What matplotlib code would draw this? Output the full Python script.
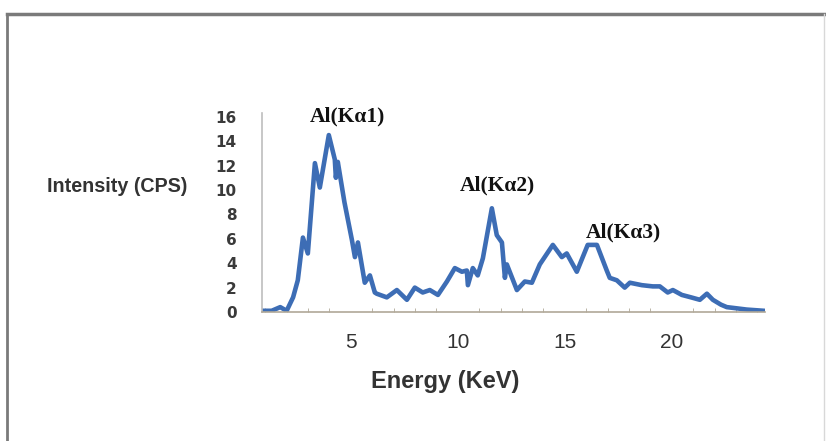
import matplotlib
matplotlib.use("Agg")
import matplotlib.pyplot as plt
from matplotlib.lines import Line2D
from matplotlib.ticker import MultipleLocator

# energy (keV) and intensity (CPS)
energy = [0.9, 1.3, 1.7, 2.0, 2.3, 2.52, 2.76, 2.99, 3.32, 3.55, 3.97, 4.25, 4.30,
          4.39, 4.7, 5.05, 5.19, 5.33, 5.65, 5.89, 6.12, 6.21, 6.68, 7.15, 7.62,
          7.99, 8.36, 8.69, 9.07, 9.49, 9.86, 10.19, 10.42, 10.47, 10.70, 10.93,
          11.17, 11.59, 11.82, 12.06, 12.20, 12.29, 12.76, 13.13, 13.46, 13.83,
          14.44, 14.86, 15.09, 15.56, 16.07, 16.50, 16.96, 17.10, 17.43, 17.80,
          18.04, 18.6, 19.11, 19.44, 19.81, 20.05, 20.47, 20.9, 21.31, 21.64,
          21.92, 22.3, 22.57, 23.04, 23.50, 24.3]
intensity = [0.1, 0.1, 0.4, 0.1, 1.2, 2.6, 6.1, 4.8, 12.2, 10.2, 14.5, 12.5, 11.0,
             12.3, 9.0, 5.9, 4.5, 5.7, 2.4, 3.0, 1.6, 1.5, 1.2, 1.8, 1.0,
             2.0, 1.6, 1.8, 1.4, 2.5, 3.6, 3.3, 3.4, 2.2, 3.6, 3.0,
             4.4, 8.5, 6.3, 5.7, 2.8, 3.9, 1.8, 2.5, 2.4, 3.9,
             5.5, 4.5, 4.8, 3.3, 5.5, 5.5, 3.4, 2.8, 2.6, 2.0,
             2.4, 2.2, 2.1, 2.1, 1.6, 1.8, 1.4, 1.2, 1.0, 1.5,
             1.0, 0.6, 0.4, 0.3, 0.2, 0.1]

peak_labels = ["Al(K\u03b11)", "Al(K\u03b12)", "Al(K\u03b13)"]
peak_x = [4.84, 11.87, 17.76]
peak_y = [16.0, 10.4, 6.5]

fig = plt.figure(figsize=(8.26, 4.41), dpi=100)
ax = fig.add_axes([0.317, 0.2925, 0.609, 0.451])

ax.plot(energy, intensity, color="#3d6db5", lw=3.3, solid_joinstyle="round")

ax.set_xlim(0.84, 24.35)
ax.set_ylim(0, 16.3)
ax.set_xticks([5, 10, 15, 20])
ax.xaxis.set_minor_locator(MultipleLocator(1))
ax.set_yticks(range(0, 17, 2))

for s in ["top", "right"]:
    ax.spines[s].set_visible(False)
ax.spines["left"].set_color("#bdbdbd")
ax.spines["bottom"].set_color("#b0a898")
ax.spines["left"].set_linewidth(1.2)
ax.spines["bottom"].set_linewidth(1.2)

ax.tick_params(axis="x", which="major", length=0, pad=15,
               labelsize=15, labelcolor="#333333")
ax.tick_params(axis="x", which="minor", direction="in", length=3, color="#b0a898")
ax.tick_params(axis="y", length=0, pad=18, labelsize=11, labelcolor="#3a3a3a")
for lab in ax.get_xticklabels():
    lab.set_family("Liberation Sans")
for lab in ax.get_yticklabels():
    lab.set_family("DejaVu Sans")
    lab.set_fontweight("bold")

for t, x, y in zip(peak_labels, peak_x, peak_y):
    ax.text(x, y, t, ha="center", va="center", fontsize=15.5, fontweight="bold",
            family="Liberation Serif", color="#111111", clip_on=False)

fig.text(0.057, 0.578, "Intensity (CPS)", fontsize=14.2, fontweight="bold",
         family="Liberation Sans", color="#333333", va="center", ha="left")
fig.text(0.539, 0.134, "Energy (KeV)", fontsize=17, fontweight="bold",
         family="Liberation Sans", color="#333333", va="center", ha="center")

# frame round the chart
fig.add_artist(Line2D([0.009, 1.0], [0.969, 0.969], color="#7a7a7a", lw=2.5))
fig.add_artist(Line2D([0.009, 0.009], [0.0, 0.969], color="#7a7a7a", lw=2.0))
fig.add_artist(Line2D([0.997, 0.997], [0.0, 0.969], color="#d8d8d8", lw=1.0))

fig.savefig("out.png", dpi=100)
